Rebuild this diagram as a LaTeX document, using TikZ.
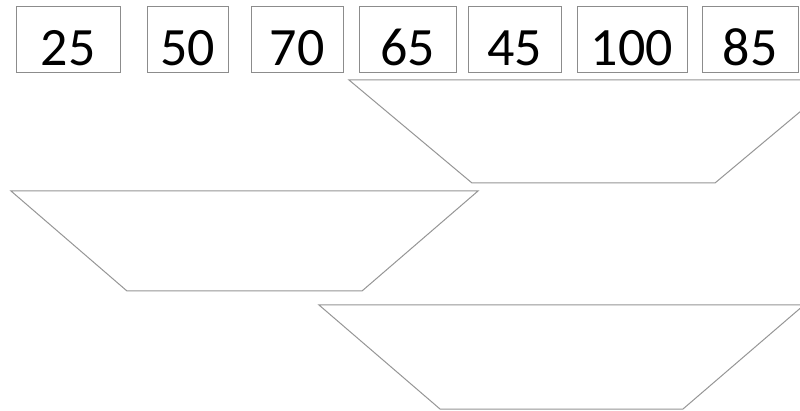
\documentclass[tikz,border=0pt]{standalone}
\usepackage{fontspec}
\setmainfont{Carlito}
\definecolor{edgegray}{RGB}{140,140,140}
\definecolor{traygray}{RGB}{150,150,150}

\begin{document}
\begin{tikzpicture}[
  x=1pt, y=-1pt,
  numbox/.style={draw=edgegray, line width=1pt, inner sep=0pt,
    minimum height=66pt, text height=51pt, text depth=0pt,
    font=\fontsize{54}{60}\selectfont},
  tray/.style={draw=traygray, line width=1pt, line join=miter}
]

%% ── Frame ─────────────────────────────────────────────────────────────────────
\clip (0,0) rectangle (800,411);
\fill[white] (0,0) rectangle (800,411);

%% ── Number row (top band) ─────────────────────────────────────────────────────

\node[numbox, minimum width=104pt] (n25)  at (68.0, 40)  {25};
\node[numbox, minimum width=81pt]  (n50)  at (187.5, 40) {50};
\node[numbox, minimum width=92pt]  (n70)  at (297.0, 40) {70};
\node[numbox, minimum width=97pt]  (n65)  at (407.5, 40) {65};
\node[numbox, minimum width=93pt]  (n45)  at (514.5, 40) {45};
\node[numbox, minimum width=110pt] (n100) at (632.0, 40) {100};
\node[numbox, minimum width=96pt]  (n85)  at (750.0, 40) {85};

%% ── Trays ─────────────────────────────────────────────────────────────────────

% upper tray, runs off the right edge
\draw[tray] (349,80) -- (838,80) -- (715,183) -- (472,183) -- cycle;

% middle tray
\draw[tray] (11,191) -- (478,191) -- (362,291) -- (127,291) -- cycle;

% lower tray, runs off the right edge
\draw[tray] (319,305) -- (804,305) -- (683,409) -- (440,409) -- cycle;

\end{tikzpicture}
\end{document}
